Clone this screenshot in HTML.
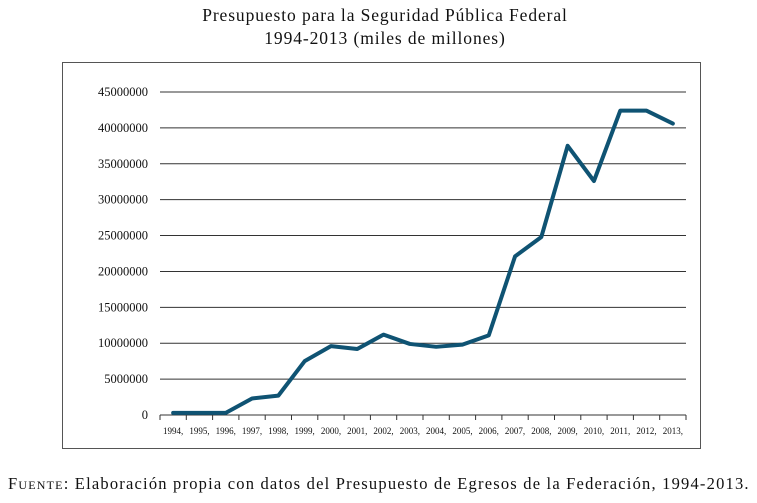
<!DOCTYPE html>
<html><head><meta charset="utf-8"><style>
body{margin:0;background:#fff;width:757px;height:503px;overflow:hidden;font-family:"Liberation Serif",serif;}
.t{position:absolute;left:0;width:770px;text-align:center;font-size:17.5px;color:#111;letter-spacing:0.9px}
.foot{position:absolute;left:8px;top:474px;font-size:16.5px;color:#111;white-space:nowrap;letter-spacing:1.2px}
</style></head><body>
<div class="t" style="top:5px">Presupuesto para la Seguridad Pública Federal</div>
<div class="t" style="top:28px">1994-2013 (miles de millones)</div>
<svg id="c" width="757" height="503" style="position:absolute;left:0;top:0"></svg>
<div class="foot"><span style="font-variant:small-caps">Fuente</span>: Elaboración propia con datos del Presupuesto de Egresos de la Federación, 1994-2013.</div>
<script>
const categories=["1994","1995","1996","1997","1998","1999","2000","2001","2002","2003","2004","2005","2006","2007","2008","2009","2010","2011","2012","2013"];
const values=[0.3e6,0.3e6,0.3e6,2.3e6,2.7e6,7.5e6,9.6e6,9.2e6,11.2e6,9.9e6,9.5e6,9.8e6,11.1e6,22.1e6,24.8e6,37.5e6,32.6e6,42.4e6,42.4e6,40.6e6];
const yTicks=[0,5000000,10000000,15000000,20000000,25000000,30000000,35000000,40000000,45000000];
const NS="http://www.w3.org/2000/svg",svg=document.getElementById('c');
const L=160,R=686,T=92,B=415,yMax=45000000;
const bw=(R-L)/categories.length;
const x=i=>L+bw*(i+0.5), y=v=>B-(v/yMax)*(B-T);
function mk(t,a){const e=document.createElementNS(NS,t);for(const k in a)e.setAttribute(k,a[k]);svg.appendChild(e);return e;}
let f=mk('rect',{x:62.5,y:62.5,width:638,height:386,fill:'none',stroke:'#555','stroke-width':1});


yTicks.forEach(v=>{
  if(v>0){let g=mk('line',{x1:L,x2:R,y1:y(v),y2:y(v),stroke:'#333','stroke-width':1});
  
  }
  let t=mk('text',{x:148,y:y(v)+4,'text-anchor':'end','font-size':12.5,fill:'#111','font-family':'Liberation Serif, serif'});
  t.textContent=v;
  
  
});
let ax=mk('line',{x1:L,x2:R,y1:B,y2:B,stroke:'#333','stroke-width':1});


for(let i=0;i<=categories.length;i++){mk('line',{x1:L+bw*i,x2:L+bw*i,y1:B,y2:B+5,stroke:'#333'});}
categories.forEach((c,i)=>{
  let t=mk('text',{x:x(i),y:434,'text-anchor':'middle','font-size':9,fill:'#111','font-family':'Liberation Serif, serif'});
  t.textContent=c+',';
  
  
});
let p=mk('polyline',{points:values.map((v,i)=>x(i)+','+y(v)).join(' '),fill:'none',stroke:'#0f5373','stroke-width':4,'stroke-linejoin':'round','stroke-linecap':'round'});


</script>
</body></html>
